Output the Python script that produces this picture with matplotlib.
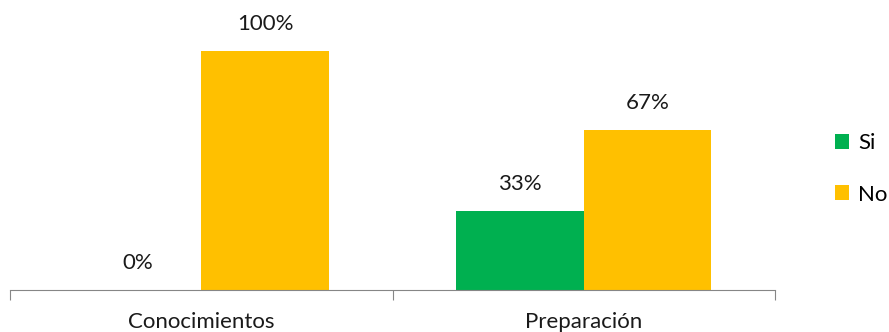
import matplotlib
matplotlib.use("Agg")
import matplotlib.pyplot as plt
import numpy as np

# data
categories = ["Conocimientos", "Preparación"]
series_names = ["Si", "No"]
si_values = [0.0, 0.33]
no_values = [1.0, 0.67]
colors = ["#00B050", "#FFC000"]

plt.rcParams['font.family'] = ['Lato', 'DejaVu Sans']

fig = plt.figure(figsize=(8.89, 3.32), dpi=100)
ax = fig.add_axes([10 / 889, (332 - 290) / 332, 765 / 889, 275 / 332])

x = np.arange(len(categories))
w = 1 / 3
bars_si = ax.bar(x - w / 2, si_values, w, color=colors[0], label=series_names[0])
bars_no = ax.bar(x + w / 2, no_values, w, color=colors[1], label=series_names[1])

for bars, vals in [(bars_si, si_values), (bars_no, no_values)]:
    for b, v in zip(bars, vals):
        ax.text(b.get_x() + b.get_width() / 2, v + 0.07, f"{v:.0%}",
                ha="center", va="bottom", fontsize=16, color="#1a1a1a")

ax.set_xlim(-0.5, 1.5)
ax.set_ylim(0, 1.15)
ax.set_yticks([])
for s in ["top", "right", "left"]:
    ax.spines[s].set_visible(False)
ax.spines["bottom"].set_color("#868686")
ax.set_xticks([-0.5, 0.5, 1.5])
ax.set_xticklabels([])
ax.tick_params(axis="x", length=7, color="#868686")
for xi, c in zip(x, categories):
    ax.text(xi, -0.09, c, ha="center", va="top", fontsize=16, color="#1a1a1a")

ax.legend(loc="center left", bbox_to_anchor=(826 / 765 - 10 / 765, 0.44),
          frameon=False, fontsize=16, handlelength=0.65, handleheight=0.65,
          handletextpad=0.4, labelspacing=1.4, borderaxespad=0)

fig.savefig("out.png", dpi=100)
